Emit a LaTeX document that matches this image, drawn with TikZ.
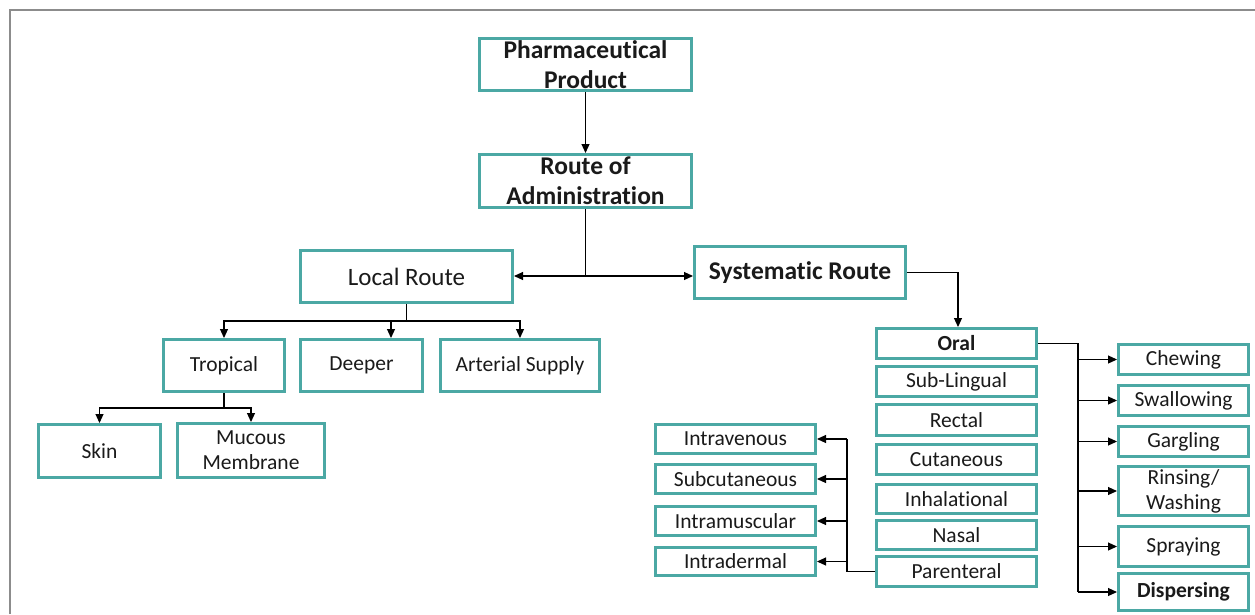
\documentclass[tikz,border=0pt]{standalone}
\usepackage{fontspec}
\setmainfont{Carlito}[RawFeature={-liga}]
\usetikzlibrary{arrows.meta}
\definecolor{teal1}{RGB}{75,168,164}
\definecolor{txt}{RGB}{26,26,26}
\definecolor{frame}{RGB}{140,140,140}
\begin{document}
\begin{tikzpicture}[x=1pt,y=-1pt,
  box/.style={draw=teal1,line width=3pt,fill=white,inner sep=0pt,align=center,text=txt},
  big/.style={font=\fontsize{25.5}{30}\selectfont\bfseries},
  mid/.style={font=\fontsize{25}{29}\selectfont},
  sm/.style={font=\fontsize{21.5}{25}\selectfont},
  smb/.style={font=\fontsize{21.5}{25}\selectfont\bfseries},
  conn/.style={draw=black,line width=1.1pt},
  arr/.style={conn,-{Triangle[length=9pt,width=8pt]}}]
\useasboundingbox (0,0) rectangle (1255,614);
\draw[frame,line width=2.5pt] (10,614) -- (10,10) -- (1255,10);
% top
\node[box,big,minimum width=212pt,minimum height=52pt] (pharm) at (585.5,64.5) {Pharmaceutical\\Product};
\node[box,big,minimum width=212pt,minimum height=53pt] (route) at (585.5,181) {Route of\\Administration};
\node[box,mid,minimum width=212pt,minimum height=52pt] (local) at (406.5,276.5) {Local Route};
\node[box,big,minimum width=211pt,minimum height=52pt] (sys) at (800,272.5) {Systematic Route};
% local children
\node[box,sm,minimum width=121pt,minimum height=52pt] (trop) at (224,365.5) {Tropical};
\node[box,sm,minimum width=122pt,minimum height=52pt] (deeper) at (361.5,365.5) {Deeper};
\node[box,sm,minimum width=159pt,minimum height=52pt] (art) at (520,365.5) {Arterial Supply};
\node[box,sm,minimum width=122pt,minimum height=53pt] (skin) at (99.5,451) {Skin};
\node[box,sm,minimum width=147pt,minimum height=54pt] (muc) at (251,450.5) {Mucous\\Membrane};
% systematic column
\node[box,smb,minimum width=160pt,minimum height=30pt] (oral) at (956.5,343.5) {Oral};
\node[box,sm,minimum width=160pt,minimum height=30pt] (sub) at (956.5,381.5) {Sub-Lingual};
\node[box,sm,minimum width=160pt,minimum height=31pt] (rect) at (956.5,420) {Rectal};
\node[box,sm,minimum width=160pt,minimum height=30pt] (cut) at (956.5,459.5) {Cutaneous};
\node[box,sm,minimum width=160pt,minimum height=29pt] (inh) at (956.5,499) {Inhalational};
\node[box,sm,minimum width=160pt,minimum height=29pt] (nasal) at (956.5,535) {Nasal};
\node[box,sm,minimum width=160pt,minimum height=30pt] (par) at (956.5,571.5) {Parenteral};
% oral children
\node[box,sm,minimum width=130pt,minimum height=30pt] (chew) at (1183.5,359.5) {Chewing};
\node[box,sm,minimum width=130pt,minimum height=30pt] (swal) at (1183.5,400.5) {Swallowing};
\node[box,sm,minimum width=130pt,minimum height=30pt] (garg) at (1183.5,441.5) {Gargling};
\node[box,sm,minimum width=130pt,minimum height=49pt] (rins) at (1183.5,491) {Rinsing/\\Washing};
\node[box,sm,minimum width=130pt,minimum height=40pt] (spray) at (1183.5,546.5) {Spraying};
\node[box,smb,minimum width=130pt,minimum height=37pt] (disp) at (1183.5,592) {Dispersing};
% parenteral children
\node[box,sm,minimum width=160pt,minimum height=29pt] (iv) at (735.5,439) {Intravenous};
\node[box,sm,minimum width=160pt,minimum height=29pt] (sc) at (735.5,479) {Subcutaneous};
\node[box,sm,minimum width=160pt,minimum height=29pt] (im) at (735.5,521) {Intramuscular};
\node[box,sm,minimum width=160pt,minimum height=28pt] (id) at (735.5,561.5) {Intradermal};
% connectors
\draw[arr] (pharm.south) -- (route.north);
\coordinate (j1) at (585.5,276);
\draw[conn] (route.south) -- (j1);
\draw[arr] (j1) -- (local.east |- j1);
\draw[arr] (j1) -- (sys.west |- j1);
\coordinate (o1) at (958,272.5);
\draw[arr] (sys.east) -- (o1) -- (o1 |- oral.north);
\coordinate (j2) at (406.5,321);
\draw[conn] (local.south) -- (j2);
\draw[arr] (j2) -| (trop.north);
\draw[arr] (j2) -| (art.north);
\coordinate (d1) at (391,321);
\draw[arr] (d1) -- (d1 |- deeper.north);
\coordinate (j3) at (224,408);
\draw[conn] (trop.south) -- (j3);
\draw[arr] (j3) -| (skin.north);
\draw[arr] (j3) -| (muc.north);
\coordinate (j4) at (1078,343.5);
\coordinate (j4b) at (1078,592);
\draw[conn] (oral.east) -- (j4) -- (j4b);
\foreach \n in {chew,swal,garg,rins,spray,disp}{
  \draw[arr] (j4 |- \n.west) -- (\n.west);
}
\coordinate (j5) at (847,571.5);
\coordinate (j5b) at (847,439);
\draw[conn] (par.west) -- (j5) -- (j5b);
\foreach \n in {iv,sc,im,id}{
  \draw[arr] (j5 |- \n.east) -- (\n.east);
}
\end{tikzpicture}
\end{document}
